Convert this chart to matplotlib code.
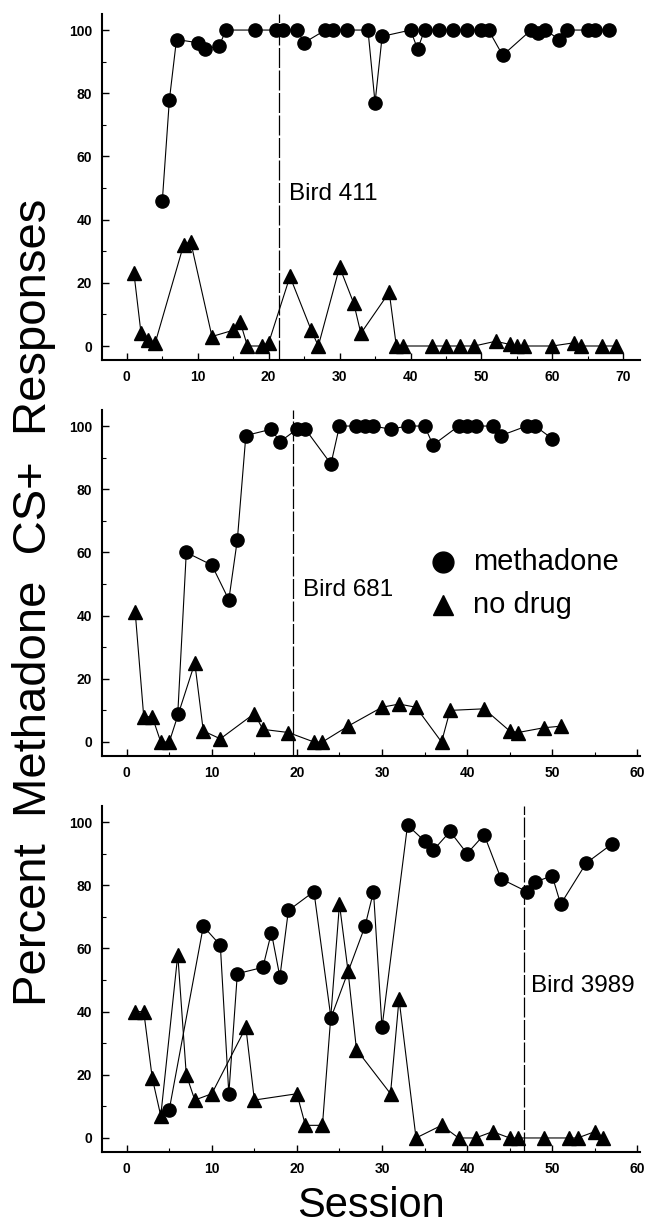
import matplotlib
matplotlib.use('Agg')
import matplotlib.pyplot as plt
from matplotlib.ticker import MultipleLocator

plt.rcParams['font.family'] = ['Liberation Sans', 'DejaVu Sans']

# ---------------- Bird 411 ----------------
b411_meth_x = [5, 6, 7, 10, 11, 13, 14, 18, 21, 22, 24, 25, 28, 29, 31, 34, 35, 36,
               40, 41, 42, 44, 46, 48, 50, 51, 53, 57, 58, 59, 61, 62, 65, 66, 68]
b411_meth_y = [46, 78, 97, 96, 94, 95, 100, 100, 100, 100, 100, 96, 100, 100, 100, 100, 77, 98,
               100, 94, 100, 100, 100, 100, 100, 100, 92, 100, 99, 100, 97, 100, 100, 100, 100]
b411_nod_x = [1, 2, 3, 4, 8, 9, 12, 15, 16, 17, 19, 20, 23, 26, 27, 30, 32, 33, 37, 38, 39,
              43, 45, 47, 49, 52, 54, 55, 56, 60, 63, 64, 67, 69]
b411_nod_y = [23, 4, 2, 1, 32, 33, 3, 5, 7.5, 0, 0, 1, 22, 5, 0, 25, 13.5, 4, 17, 0, 0,
              0, 0, 0, 0, 1.5, 0.5, 0, 0, 0, 1, 0, 0, 0]

# ---------------- Bird 681 ----------------
b681_meth_x = [6, 7, 10, 12, 13, 14, 17, 18, 20, 21, 24, 25, 27, 28, 29, 31, 33, 35, 36,
               39, 40, 41, 43, 44, 47, 48, 50]
b681_meth_y = [9, 60, 56, 45, 64, 97, 99, 95, 99, 99, 88, 100, 100, 100, 100, 99, 100, 100, 94,
               100, 100, 100, 100, 97, 100, 100, 96]
b681_nod_x = [1, 2, 3, 4, 5, 8, 9, 11, 15, 16, 19, 22, 23, 26, 30, 32, 34, 37, 38, 42,
              45, 46, 49, 51]
b681_nod_y = [41, 8, 8, 0, 0, 25, 3.5, 1, 9, 4, 3, 0, 0, 5, 11, 12, 11, 0, 10, 10.5,
              3.5, 3, 4.5, 5]

# ---------------- Bird 3989 ----------------
b3989_meth_x = [5, 9, 11, 12, 13, 16, 17, 18, 19, 22, 24, 28, 29, 30, 33, 35, 36, 38,
                40, 42, 44, 47, 48, 50, 51, 54, 57]
b3989_meth_y = [9, 67, 61, 14, 52, 54, 65, 51, 72, 78, 38, 67, 78, 35, 99, 94, 91, 97,
                90, 96, 82, 78, 81, 83, 74, 87, 93]
b3989_nod_x = [1, 2, 3, 4, 6, 7, 8, 10, 14, 15, 20, 21, 23, 25, 26, 27, 31, 32, 34, 37,
               39, 41, 43, 45, 46, 49, 52, 53, 55, 56]
b3989_nod_y = [40, 40, 19, 7, 58, 20, 12, 14, 35, 12, 14, 4, 4, 74, 53, 28, 14, 44, 0, 4,
               0, 0, 2, 0, 0, 0, 0, 0, 2, 0]

bird_names = ['Bird 411', 'Bird 681', 'Bird 3989']
phase_lines = [21.4, 19.5, 46.7]
label_pos = [(22.8, 48), (20.7, 48), (47.5, 48)]
x_limits = [(-3.5, 72.4), (-2.9, 60.35), (-2.9, 60.35)]
x_ticks = [list(range(0, 71, 10)), list(range(0, 61, 10)), list(range(0, 61, 10))]
y_ticks = [0, 20, 40, 60, 80, 100]
legend_labels = ['methadone', 'no drug']

panels = [
    (b411_meth_x, b411_meth_y, b411_nod_x, b411_nod_y),
    (b681_meth_x, b681_meth_y, b681_nod_x, b681_nod_y),
    (b3989_meth_x, b3989_meth_y, b3989_nod_x, b3989_nod_y),
]

fig = plt.figure(figsize=(6.5, 12.29), dpi=100)
left, width, height = 0.157, 0.828, 0.2815
bottoms = [0.7069, 0.3847, 0.0625]

for i, (mx, my, nx, ny) in enumerate(panels):
    ax = fig.add_axes([left, bottoms[i], width, height])
    ax.plot(nx, ny, color='black', lw=0.8, marker='^', ms=10, mfc='black', mec='black', zorder=3)
    ax.plot(mx, my, color='black', lw=0.8, marker='o', ms=9.5, mfc='black', mec='black', zorder=3)
    ax.axvline(phase_lines[i], color='black', lw=0.9, dashes=(16, 2), zorder=1)
    ax.text(label_pos[i][0], label_pos[i][1], bird_names[i], fontsize=17.5, va='center', ha='left')
    ax.set_xlim(*x_limits[i])
    ax.set_ylim(-4.5, 105)
    ax.set_xticks(x_ticks[i])
    ax.set_yticks(y_ticks)
    ax.xaxis.set_minor_locator(MultipleLocator(5))
    ax.yaxis.set_minor_locator(MultipleLocator(10))
    for s in ['top', 'right']:
        ax.spines[s].set_visible(False)
    for s in ['left', 'bottom']:
        ax.spines[s].set_linewidth(1.5)
    ax.tick_params(which='major', direction='in', length=5, width=1, labelsize=10, pad=7)
    ax.tick_params(which='minor', direction='in', length=3, width=0.8)
    for lab in ax.get_xticklabels() + ax.get_yticklabels():
        lab.set_fontweight('bold')
    if i == 1:
        ax.plot([0.634], [0.561], 'o', color='black', ms=15, transform=ax.transAxes, clip_on=False)
        ax.plot([0.634], [0.437], '^', color='black', ms=15, transform=ax.transAxes, clip_on=False)
        ax.text(0.69, 0.561, legend_labels[0], fontsize=21, va='center', ha='left', transform=ax.transAxes)
        ax.text(0.69, 0.437, legend_labels[1], fontsize=21, va='center', ha='left', transform=ax.transAxes)

fig.text(0.052, 0.51, 'Percent  Methadone  CS+  Responses', rotation=90, fontsize=34,
         ha='center', va='center')
fig.text(0.571, 0.019, 'Session', fontsize=30, ha='center', va='center')

fig.savefig('out.png', dpi=100)
